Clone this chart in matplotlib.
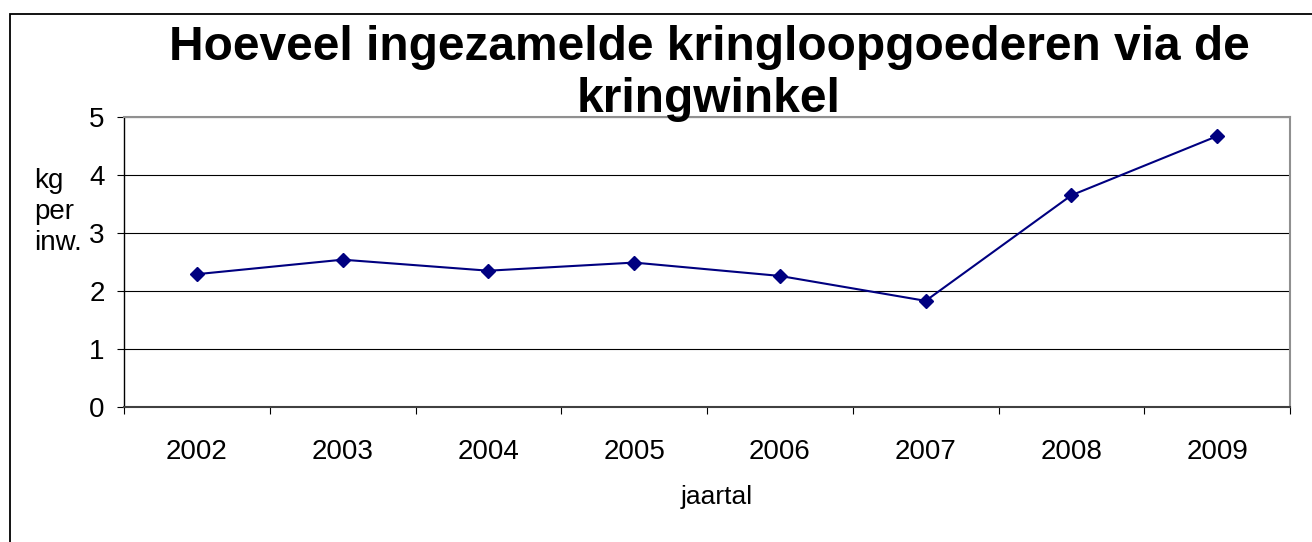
import matplotlib.pyplot as plt
from matplotlib.patches import Rectangle

plt.rcParams['font.family'] = ['Liberation Sans', 'DejaVu Sans']

# data
years = ['2002', '2003', '2004', '2005', '2006', '2007', '2008', '2009']
kg_per_inw = [2.29, 2.54, 2.35, 2.49, 2.26, 1.83, 3.65, 4.67]

W, H = 1312, 542
fig = plt.figure(figsize=(W / 100, H / 100), dpi=100)

# outer chart frame (runs off the right and bottom edge)
fig.patches.append(Rectangle((10 / W, -0.05), 1.1, 1 - 14 / H + 0.05,
                             transform=fig.transFigure, fill=False,
                             edgecolor='black', linewidth=1.3))

ax = fig.add_axes([124 / W, (H - 407) / H, 1166 / W, 290 / H])

x = list(range(len(years)))
ax.plot(x, kg_per_inw, color='#000080', linewidth=1.5,
        marker='D', markersize=7, zorder=3)

ax.set_xlim(-0.5, len(years) - 0.5)
ax.set_ylim(0, 5)
ax.set_yticks([0, 1, 2, 3, 4, 5])
ax.yaxis.grid(True, color='black', linewidth=0.8)
ax.set_axisbelow(True)

ax.set_xticks(x)
ax.set_xticklabels(years)
ax.set_xticks([i - 0.5 for i in range(len(years) + 1)], minor=True)
ax.tick_params(axis='x', which='major', length=0, pad=23, labelsize=20)
ax.tick_params(axis='x', which='minor', length=5, width=0.8, direction='out')
ax.tick_params(axis='y', length=5, width=0.8, pad=9, labelsize=20)

ax.spines['left'].set_color('black')
ax.spines['left'].set_linewidth(1.0)
ax.spines['bottom'].set_color('#404040')
ax.spines['bottom'].set_linewidth(1.5)
ax.spines['top'].set_color('#909090')
ax.spines['top'].set_linewidth(1.5)
ax.spines['right'].set_color('#909090')
ax.spines['right'].set_linewidth(1.5)

fig.text(709 / W, 1 - 25 / H,
         'Hoeveel ingezamelde kringloopgoederen via de\nkringwinkel',
         ha='center', va='top', fontsize=34.5, fontweight='bold',
         linespacing=1.2)

fig.text(34 / W, 1 - 212 / H, 'kg\nper\ninw.', ha='left', va='center',
         fontsize=20, linespacing=1.25)

fig.text(717 / W, 1 - 497 / H, 'jaartal', ha='center', va='center',
         fontsize=19)

fig.savefig('out.png', dpi=100)
